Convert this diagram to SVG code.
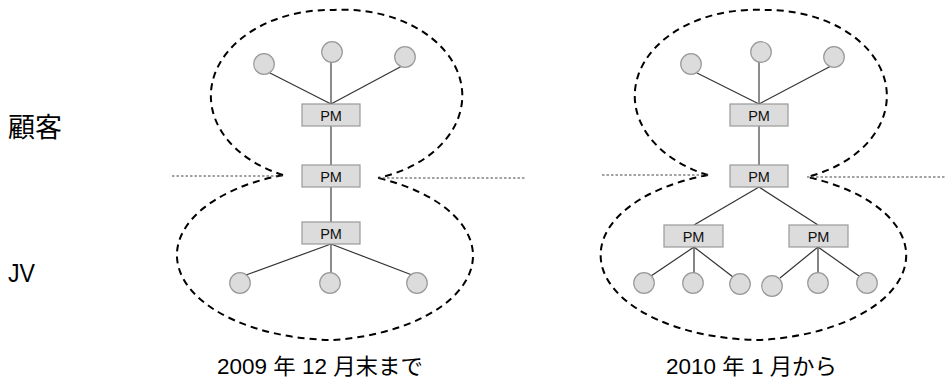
<svg xmlns="http://www.w3.org/2000/svg" width="947" height="379" viewBox="0 0 947 379">
  <style>
    .lobe { fill: none; stroke: #000; stroke-width: 2; stroke-dasharray: 7 5; }
    .divider { fill: none; stroke: #444; stroke-width: 1; stroke-dasharray: 2.5 2; }
    .edge { stroke: #333; stroke-width: 1.2; fill: none; }
    .trunk { stroke: #666; stroke-width: 1.5; fill: none; }
    .member { fill: #dcdcdc; stroke: #999; stroke-width: 1.2; }
    .pm rect { fill: #dcdcdc; stroke: #999; stroke-width: 1.2; }
    .pm text { font-family: "Liberation Sans", Arial, sans-serif; font-size: 14.5px; fill: #111; text-anchor: middle; }
    .label { font-family: "Liberation Sans", "Noto Sans CJK JP", sans-serif; fill: #000; }
  </style>

  <rect width="947" height="379" fill="#fff"/>

  <!-- side labels -->
  <g id="label-customer"><text class="label" x="8" y="137" font-size="27">顧客</text></g>
  <g id="label-jv"><text class="label" x="8" y="282" font-size="26" textLength="27" lengthAdjust="spacingAndGlyphs">JV</text></g>

  <!-- organisation boundaries and the customer / JV divider -->
  <g id="boundaries">
    <path class="lobe" d="M283,175 A119,86 0 0 1 334,10 A119,86 0 0 1 378,178"/>
    <path class="lobe" d="M283,175 A160,85 0 0 0 333,340 A160,85 0 0 0 378,178"/>
    <path class="lobe" d="M708,175 A120,86 0 0 1 763,10 A120,86 0 0 1 807,177"/>
    <path class="lobe" d="M708,175 A162,85 0 0 0 759,340 A162,85 0 0 0 807,177"/>
    <line class="divider" x1="172" y1="176" x2="283" y2="176"/>
    <line class="divider" x1="378" y1="178" x2="526" y2="178"/>
    <line class="divider" x1="602" y1="175" x2="708" y2="175"/>
    <line class="divider" x1="807" y1="177" x2="946" y2="177"/>
  </g>

  <!-- connectors -->
  <g id="connectors">
    <!-- before: single chain -->
    <line class="edge" x1="270" y1="73" x2="331" y2="104"/>
    <line class="trunk" x1="331" y1="62" x2="331" y2="104"/>
    <line class="edge" x1="402" y1="66" x2="331" y2="104"/>
    <line class="trunk" x1="331" y1="126" x2="331" y2="165"/>
    <line class="trunk" x1="331" y1="187" x2="331" y2="222"/>
    <line class="edge" x1="331" y1="244" x2="246" y2="275"/>
    <line class="trunk" x1="331" y1="244" x2="331" y2="273"/>
    <line class="edge" x1="331" y1="244" x2="412" y2="275"/>
    <!-- after: split into two teams -->
    <line class="edge" x1="697" y1="73" x2="759" y2="104"/>
    <line class="trunk" x1="759" y1="62" x2="759" y2="104"/>
    <line class="edge" x1="831" y1="66" x2="759" y2="104"/>
    <line class="trunk" x1="759" y1="126" x2="759" y2="165"/>
    <line class="edge" x1="759" y1="187" x2="694" y2="225"/>
    <line class="edge" x1="759" y1="187" x2="818" y2="225"/>
    <line class="edge" x1="694" y1="247" x2="651" y2="276"/>
    <line class="edge" x1="694" y1="247" x2="694" y2="273"/>
    <line class="edge" x1="694" y1="247" x2="733" y2="277"/>
    <line class="edge" x1="818" y1="247" x2="780" y2="278"/>
    <line class="edge" x1="818" y1="247" x2="818" y2="273"/>
    <line class="edge" x1="818" y1="247" x2="859" y2="276"/>
  </g>

  <!-- before: members -->
  <g id="a-top-1"><circle class="member" cx="264" cy="64" r="10.3"/></g>
  <g id="a-top-2"><circle class="member" cx="332" cy="52" r="10.3"/></g>
  <g id="a-top-3"><circle class="member" cx="405" cy="57" r="10.3"/></g>
  <g id="a-pm-customer" class="pm"><rect x="302" y="104" width="58" height="22"/><text x="331" y="120.5">PM</text></g>
  <g id="a-pm-shared" class="pm"><rect x="302" y="165" width="58" height="22"/><text x="331" y="181.5">PM</text></g>
  <g id="a-pm-jv" class="pm"><rect x="302" y="222" width="58" height="22"/><text x="331" y="238.5">PM</text></g>
  <g id="a-bottom-1"><circle class="member" cx="240" cy="283" r="10.3"/></g>
  <g id="a-bottom-2"><circle class="member" cx="330" cy="283" r="10.3"/></g>
  <g id="a-bottom-3"><circle class="member" cx="417" cy="283" r="10.3"/></g>

  <!-- after: members -->
  <g id="b-top-1"><circle class="member" cx="691" cy="64" r="10.3"/></g>
  <g id="b-top-2"><circle class="member" cx="761" cy="52" r="10.3"/></g>
  <g id="b-top-3"><circle class="member" cx="834" cy="57" r="10.3"/></g>
  <g id="b-pm-customer" class="pm"><rect x="730" y="104" width="58" height="22"/><text x="759" y="120.5">PM</text></g>
  <g id="b-pm-shared" class="pm"><rect x="730" y="165" width="58" height="22"/><text x="759" y="181.5">PM</text></g>
  <g id="b-pm-jv-1" class="pm"><rect x="664" y="225" width="59" height="22"/><text x="693.5" y="241.5">PM</text></g>
  <g id="b-pm-jv-2" class="pm"><rect x="789" y="225" width="59" height="22"/><text x="818.5" y="241.5">PM</text></g>
  <g id="b-bottom-1"><circle class="member" cx="644" cy="283" r="10.3"/></g>
  <g id="b-bottom-2"><circle class="member" cx="693" cy="283" r="10.3"/></g>
  <g id="b-bottom-3"><circle class="member" cx="740" cy="284" r="10.3"/></g>
  <g id="b-bottom-4"><circle class="member" cx="772" cy="286" r="10.3"/></g>
  <g id="b-bottom-5"><circle class="member" cx="818" cy="283" r="10.3"/></g>
  <g id="b-bottom-6"><circle class="member" cx="867" cy="283" r="10.3"/></g>

  <!-- captions -->
  <g id="caption-before"><text class="label" x="217" y="374" font-size="22" textLength="206" lengthAdjust="spacingAndGlyphs">2009 年 12 月末まで</text></g>
  <g id="caption-after"><text class="label" x="666" y="374" font-size="22" textLength="171" lengthAdjust="spacingAndGlyphs">2010 年 1 月から</text></g>
</svg>
